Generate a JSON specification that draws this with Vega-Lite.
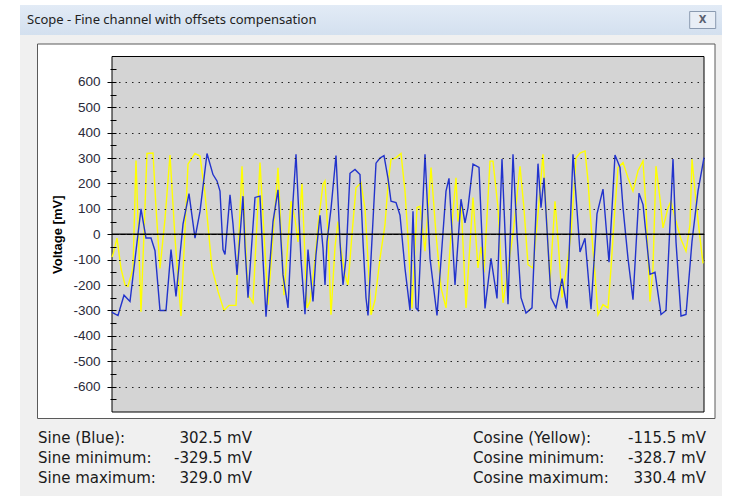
{
  "$schema": "https://vega.github.io/schema/vega-lite/v6.json",
  "background": "#ffffff",
  "padding": {"left": 20, "top": 5, "right": 9, "bottom": 0},
  "spacing": 0,
  "bounds": "flush",
  "config": {"view": {"stroke": null}},
  "datasets": {
    "sine": [
      {"t":0,"mV":-305},{"t":1,"mV":-310},{"t":6,"mV":-320},{"t":12,"mV":-240},{"t":18,"mV":-265},{"t":29,"mV":100},{"t":34,"mV":-15},{"t":39,"mV":-15},{"t":43,"mV":-65},{"t":48,"mV":-300},{"t":54,"mV":-300},{"t":59,"mV":-60},{"t":64,"mV":-245},{"t":71,"mV":40},{"t":77,"mV":160},{"t":83,"mV":-15},{"t":88,"mV":90},{"t":95,"mV":318},{"t":101,"mV":235},{"t":105,"mV":210},{"t":108,"mV":170},{"t":111,"mV":-60},{"t":113,"mV":-80},{"t":118,"mV":155},{"t":121,"mV":40},{"t":125,"mV":-160},{"t":131,"mV":150},{"t":133,"mV":-50},{"t":136,"mV":-250},{"t":143,"mV":145},{"t":148,"mV":150},{"t":151,"mV":-100},{"t":154,"mV":-325},{"t":161,"mV":50},{"t":166,"mV":175},{"t":171,"mV":-160},{"t":176,"mV":-290},{"t":181,"mV":130},{"t":184,"mV":315},{"t":189,"mV":-100},{"t":193,"mV":-315},{"t":196,"mV":-60},{"t":201,"mV":-265},{"t":204,"mV":-80},{"t":208,"mV":75},{"t":211,"mV":-55},{"t":213,"mV":-200},{"t":215,"mV":-30},{"t":219,"mV":100},{"t":224,"mV":310},{"t":228,"mV":-30},{"t":231,"mV":-200},{"t":234,"mV":-95},{"t":238,"mV":240},{"t":243,"mV":255},{"t":248,"mV":235},{"t":251,"mV":-30},{"t":254,"mV":-250},{"t":256,"mV":-320},{"t":259,"mV":-95},{"t":264,"mV":280},{"t":268,"mV":300},{"t":272,"mV":310},{"t":276,"mV":220},{"t":279,"mV":130},{"t":284,"mV":125},{"t":288,"mV":75},{"t":293,"mV":-135},{"t":298,"mV":-300},{"t":301,"mV":90},{"t":304,"mV":-290},{"t":306,"mV":-300},{"t":313,"mV":315},{"t":318,"mV":-95},{"t":325,"mV":-320},{"t":334,"mV":170},{"t":337,"mV":220},{"t":343,"mV":-200},{"t":349,"mV":138},{"t":353,"mV":45},{"t":356,"mV":105},{"t":361,"mV":276},{"t":367,"mV":263},{"t":373,"mV":-292},{"t":379,"mV":-95},{"t":385,"mV":-253},{"t":390,"mV":296},{"t":396,"mV":-276},{"t":401,"mV":315},{"t":405,"mV":0},{"t":409,"mV":-250},{"t":414,"mV":-310},{"t":420,"mV":-290},{"t":426,"mV":278},{"t":429,"mV":105},{"t":432,"mV":222},{"t":439,"mV":-250},{"t":444,"mV":-290},{"t":450,"mV":-175},{"t":455,"mV":-292},{"t":461,"mV":315},{"t":468,"mV":-70},{"t":473,"mV":-16},{"t":479,"mV":-295},{"t":485,"mV":80},{"t":491,"mV":178},{"t":497,"mV":-110},{"t":503,"mV":312},{"t":508,"mV":263},{"t":511,"mV":105},{"t":516,"mV":-95},{"t":521,"mV":-258},{"t":527,"mV":162},{"t":531,"mV":117},{"t":534,"mV":0},{"t":538,"mV":-158},{"t":543,"mV":-150},{"t":549,"mV":-316},{"t":554,"mV":-300},{"t":561,"mV":296},{"t":564,"mV":-30},{"t":569,"mV":-322},{"t":574,"mV":-316},{"t":580,"mV":-28},{"t":586,"mV":170},{"t":592,"mV":302}
    ],
    "cosine": [
      {"t":0,"mV":-90},{"t":1,"mV":-80},{"t":5,"mV":-15},{"t":9,"mV":-135},{"t":13,"mV":-200},{"t":16,"mV":-205},{"t":21,"mV":-135},{"t":24,"mV":290},{"t":29,"mV":-305},{"t":35,"mV":318},{"t":41,"mV":320},{"t":44,"mV":105},{"t":48,"mV":-135},{"t":53,"mV":60},{"t":58,"mV":312},{"t":63,"mV":-15},{"t":69,"mV":-322},{"t":76,"mV":276},{"t":83,"mV":318},{"t":88,"mV":308},{"t":93,"mV":160},{"t":100,"mV":-134},{"t":106,"mV":-225},{"t":112,"mV":-300},{"t":117,"mV":-280},{"t":124,"mV":-280},{"t":130,"mV":268},{"t":136,"mV":-240},{"t":141,"mV":-270},{"t":148,"mV":282},{"t":156,"mV":-277},{"t":166,"mV":262},{"t":172,"mV":-240},{"t":179,"mV":130},{"t":183,"mV":60},{"t":186,"mV":-30},{"t":190,"mV":200},{"t":195,"mV":-290},{"t":198,"mV":-265},{"t":203,"mV":-100},{"t":206,"mV":38},{"t":211,"mV":196},{"t":213,"mV":210},{"t":216,"mV":0},{"t":219,"mV":-317},{"t":223,"mV":-50},{"t":226,"mV":50},{"t":229,"mV":-60},{"t":233,"mV":-160},{"t":236,"mV":-200},{"t":240,"mV":0},{"t":244,"mV":183},{"t":249,"mV":203},{"t":253,"mV":100},{"t":256,"mV":-100},{"t":259,"mV":-317},{"t":263,"mV":-260},{"t":268,"mV":-95},{"t":273,"mV":38},{"t":276,"mV":196},{"t":279,"mV":295},{"t":284,"mV":301},{"t":289,"mV":318},{"t":293,"mV":170},{"t":296,"mV":-15},{"t":300,"mV":-292},{"t":305,"mV":105},{"t":308,"mV":110},{"t":313,"mV":-67},{"t":319,"mV":263},{"t":324,"mV":0},{"t":329,"mV":-210},{"t":334,"mV":-290},{"t":339,"mV":0},{"t":344,"mV":222},{"t":346,"mV":50},{"t":349,"mV":130},{"t":354,"mV":-290},{"t":357,"mV":-100},{"t":361,"mV":145},{"t":366,"mV":-133},{"t":369,"mV":-50},{"t":372,"mV":-150},{"t":378,"mV":288},{"t":381,"mV":288},{"t":386,"mV":105},{"t":391,"mV":-270},{"t":396,"mV":-133},{"t":401,"mV":0},{"t":408,"mV":268},{"t":412,"mV":100},{"t":416,"mV":-120},{"t":421,"mV":-133},{"t":426,"mV":80},{"t":431,"mV":315},{"t":434,"mV":100},{"t":438,"mV":-185},{"t":443,"mV":130},{"t":446,"mV":-20},{"t":450,"mV":-250},{"t":455,"mV":-120},{"t":459,"mV":0},{"t":464,"mV":300},{"t":468,"mV":320},{"t":473,"mV":328},{"t":476,"mV":210},{"t":479,"mV":38},{"t":483,"mV":-160},{"t":486,"mV":-317},{"t":491,"mV":-277},{"t":496,"mV":-290},{"t":499,"mV":-133},{"t":503,"mV":104},{"t":506,"mV":262},{"t":511,"mV":282},{"t":516,"mV":222},{"t":521,"mV":170},{"t":526,"mV":250},{"t":531,"mV":288},{"t":534,"mV":104},{"t":538,"mV":-265},{"t":541,"mV":-133},{"t":544,"mV":268},{"t":548,"mV":140},{"t":551,"mV":25},{"t":556,"mV":104},{"t":559,"mV":130},{"t":564,"mV":51},{"t":569,"mV":-20},{"t":574,"mV":-67},{"t":578,"mV":38},{"t":580,"mV":295},{"t":583,"mV":170},{"t":587,"mV":20},{"t":591,"mV":-115}
    ],
    "readings": [
      {"side":"Sine","row":1,"label":"Sine (Blue):","reading":"302.5 mV"},
      {"side":"Sine","row":2,"label":"Sine minimum:","reading":"-329.5 mV"},
      {"side":"Sine","row":3,"label":"Sine maximum:","reading":"329.0 mV"},
      {"side":"Cosine","row":1,"label":"Cosine (Yellow):","reading":"-115.5 mV"},
      {"side":"Cosine","row":2,"label":"Cosine minimum:","reading":"-328.7 mV"},
      {"side":"Cosine","row":3,"label":"Cosine maximum:","reading":"330.4 mV"}
    ]
  },
  "vconcat": [
    {
      "width": 702,
      "height": 30,
      "view": {"stroke": null, "fill": {"gradient": "linear", "x1": 0, "y1": 0, "x2": 0, "y2": 1, "stops": [{"offset": 0, "color": "#e2ebf6"}, {"offset": 1, "color": "#d3e0ef"}]}},
      "data": {"values": [{"caption": "Scope - Fine channel with offsets compensation"}]},
      "layer": [
        {
          "mark": {"type": "text", "align": "left", "dx": 7, "font": "Noto Sans", "fontSize": 13, "color": "#222222"},
          "encoding": {
            "text": {"field": "caption"},
            "x": {"datum": 0, "type": "quantitative", "scale": {"domain": [0, 1], "nice": false, "zero": false}, "axis": null}
          }
        },
        {
          "mark": {"type": "point", "shape": "M-1.3,-0.85H1.3V0.85H-1.3Z", "size": 400, "filled": true, "fill": "#e8eef6", "stroke": "#8a9ab0", "strokeWidth": 1, "opacity": 1},
          "encoding": {"x": {"datum": 0.9725, "type": "quantitative", "axis": null}}
        },
        {
          "mark": {"type": "text", "text": "X", "font": "DejaVu Sans", "fontSize": 10, "fontWeight": "bold", "color": "#5a6070"},
          "encoding": {"x": {"datum": 0.9725, "type": "quantitative", "axis": null}}
        }
      ]
    },
    {
      "width": 702,
      "height": 390,
      "view": {"stroke": null, "fill": "#f0f0f0"},
      "resolve": {"axis": {"y": "independent"}},
      "layer": [
        {
          "data": {"values": [{"part": "frame"}]},
          "mark": {"type": "rect", "fill": "#ffffff", "stroke": "#5a5a5a", "strokeWidth": 1},
          "encoding": {
            "x": {"datum": -74.5, "type": "quantitative", "scale": {"domain": [0, 592], "range": [92, 684], "nice": false, "zero": false}, "axis": null},
            "x2": {"datum": 603},
            "y": {"datum": 749.2, "type": "quantitative", "scale": {"domain": [-700, 700], "range": [377, 21.5], "nice": false, "zero": false}, "axis": null},
            "y2": {"datum": -725.6}
          }
        },
        {
          "data": {"values": [{"part": "plot"}]},
          "mark": {"type": "rect", "fill": "#d4d4d4", "stroke": "#000000", "strokeWidth": 1},
          "encoding": {
            "x": {"datum": 0, "type": "quantitative", "axis": null},
            "x2": {"datum": 592},
            "y": {"datum": -700, "type": "quantitative",
              "axis": {
                "orient": "left", "offset": -96, "domain": false, "zindex": 2,
                "values": [-600, -500, -400, -300, -200, -100, 0, 100, 200, 300, 400, 500, 600],
                "tickColor": "#000000", "tickWidth": 1, "tickSize": 9,
                "labelExpr": "'' + datum.value",
                "labelFont": "Liberation Sans", "labelFontSize": 13.5, "labelColor": "#2a2a3a", "labelPadding": 7, "labelOverlap": false, "labelBound": false,
                "grid": true, "gridColor": "#222222", "gridDash": [1.5, 5], "gridWidth": 1,
                "title": "Voltage [mV]", "titleFont": "Liberation Sans", "titleFontSize": 13, "titleFontWeight": "bold", "titleColor": "#000000", "titlePadding": 8
              }
            },
            "y2": {"datum": 700}
          }
        },
        {
          "data": {"values": [{"part": "minor"}]},
          "mark": {"type": "rule", "opacity": 0},
          "encoding": {
            "y": {"datum": 0, "type": "quantitative",
              "axis": {
                "orient": "left", "offset": -96, "domain": false, "zindex": 2, "grid": false,
                "values": [-650, -550, -450, -350, -250, -150, -50, 50, 150, 250, 350, 450, 550, 650],
                "tickColor": "#000000", "tickWidth": 1, "tickSize": 6, "labels": false, "title": null
              }
            }
          }
        },
        {
          "data": {"name": "cosine"},
          "mark": {"type": "line", "color": "#ffff00", "strokeWidth": 1.4},
          "encoding": {
            "x": {"field": "t", "type": "quantitative", "axis": null},
            "y": {"field": "mV", "type": "quantitative", "axis": null}
          }
        },
        {
          "data": {"name": "sine"},
          "mark": {"type": "line", "color": "#2233cc", "strokeWidth": 1.4},
          "encoding": {
            "x": {"field": "t", "type": "quantitative", "axis": null},
            "y": {"field": "mV", "type": "quantitative", "axis": null}
          }
        },
        {
          "data": {"values": [{"level": "zero"}]},
          "mark": {"type": "rule", "color": "#000000", "strokeWidth": 1.6},
          "encoding": {
            "x": {"datum": 0, "type": "quantitative", "axis": null},
            "x2": {"datum": 592},
            "y": {"datum": 0, "type": "quantitative", "axis": null}
          }
        }
      ]
    },
    {
      "width": 702,
      "height": 71,
      "view": {"stroke": null, "fill": "#f0f0f0"},
      "data": {"name": "readings"},
      "layer": [
        {
          "mark": {"type": "text", "align": "left", "font": "DejaVu Sans", "fontSize": 15, "color": "#1a1a1a"},
          "encoding": {
            "text": {"field": "label"},
            "x": {"field": "side", "type": "nominal", "scale": {"type": "point", "domain": ["Sine", "Cosine"], "range": [18, 453], "padding": 0}, "axis": null},
            "y": {"field": "row", "type": "ordinal", "scale": {"type": "point", "range": [13, 53], "padding": 0}, "axis": null}
          }
        },
        {
          "mark": {"type": "text", "align": "right", "font": "DejaVu Sans", "fontSize": 15, "color": "#1a1a1a"},
          "encoding": {
            "text": {"field": "reading"},
            "x": {"field": "side", "type": "nominal", "scale": {"type": "point", "domain": ["Sine", "Cosine"], "range": [232, 686], "padding": 0}, "axis": null},
            "y": {"field": "row", "type": "ordinal", "axis": null}
          }
        }
      ],
      "resolve": {"scale": {"x": "independent"}}
    }
  ]
}
